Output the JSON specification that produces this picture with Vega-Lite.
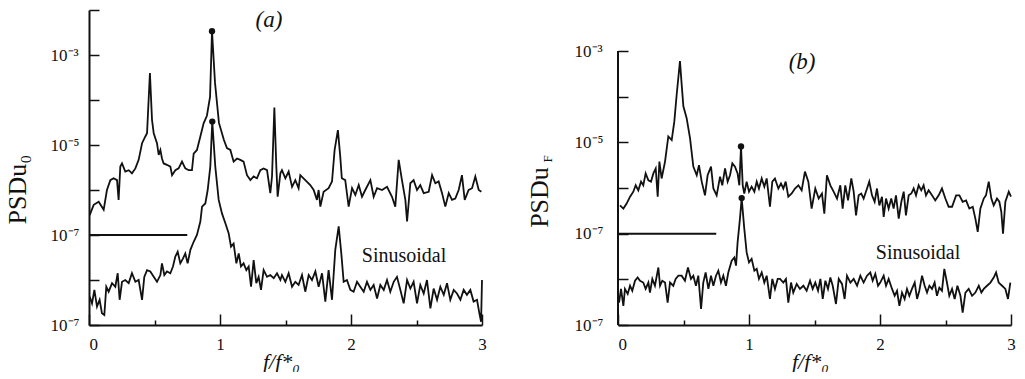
{
  "$schema": "https://vega.github.io/schema/vega-lite/v6.json",
  "background": "white",
  "padding": {"left": 4, "top": 1, "right": 0, "bottom": 0},
  "bounds": "flush",
  "spacing": 136,
  "config": {
    "view": {"stroke": null},
    "font": "Liberation Serif",
    "axis": {"grid": false, "domainColor": "#111", "domainWidth": 2, "tickColor": "#111", "tickWidth": 1.5, "labelColor": "#111", "titleColor": "#111", "labelFont": "Liberation Serif", "titleFont": "Liberation Serif", "titleFontWeight": "normal", "labelOverlap": false, "labelFlush": false}
  },
  "datasets": {
    "a": [
      {"s":"u","f":0.005,"L":-6.56},{"s":"u","f":0.036,"L":-6.33},{"s":"u","f":0.074,"L":-6.26},{"s":"u","f":0.112,"L":-6.44},{"s":"u","f":0.137,"L":-6.0},{"s":"u","f":0.163,"L":-5.78},{"s":"u","f":0.188,"L":-5.74},{"s":"u","f":0.214,"L":-5.78},{"s":"u","f":0.226,"L":-6.22},{"s":"u","f":0.239,"L":-5.48},{"s":"u","f":0.252,"L":-5.41},{"s":"u","f":0.277,"L":-5.59},{"s":"u","f":0.303,"L":-5.56},{"s":"u","f":0.328,"L":-5.63},{"s":"u","f":0.354,"L":-5.52},{"s":"u","f":0.379,"L":-5.33},{"s":"u","f":0.405,"L":-4.96},{"s":"u","f":0.43,"L":-4.81},{"s":"u","f":0.443,"L":-4.74},{"s":"u","f":0.465,"L":-3.4},{"s":"u","f":0.481,"L":-4.44},{"s":"u","f":0.494,"L":-4.74},{"s":"u","f":0.519,"L":-4.96},{"s":"u","f":0.532,"L":-5.22},{"s":"u","f":0.545,"L":-5.11},{"s":"u","f":0.557,"L":-5.3},{"s":"u","f":0.57,"L":-5.41},{"s":"u","f":0.595,"L":-5.44},{"s":"u","f":0.621,"L":-5.48},{"s":"u","f":0.634,"L":-5.67},{"s":"u","f":0.659,"L":-5.56},{"s":"u","f":0.684,"L":-5.52},{"s":"u","f":0.71,"L":-5.37},{"s":"u","f":0.735,"L":-5.52},{"s":"u","f":0.761,"L":-5.56},{"s":"u","f":0.786,"L":-5.56},{"s":"u","f":0.799,"L":-5.19},{"s":"u","f":0.824,"L":-5.11},{"s":"u","f":0.85,"L":-4.81},{"s":"u","f":0.875,"L":-4.52},{"s":"u","f":0.9,"L":-4.35},{"s":"u","f":0.924,"L":-3.93},{"s":"u","f":0.939,"L":-2.47},{"s":"u","f":0.962,"L":-3.62},{"s":"u","f":0.992,"L":-4.51},{"s":"u","f":1.03,"L":-4.89},{"s":"u","f":1.053,"L":-5.07},{"s":"u","f":1.079,"L":-5.11},{"s":"u","f":1.104,"L":-5.37},{"s":"u","f":1.13,"L":-5.3},{"s":"u","f":1.155,"L":-5.33},{"s":"u","f":1.18,"L":-5.37},{"s":"u","f":1.206,"L":-5.67},{"s":"u","f":1.232,"L":-5.78},{"s":"u","f":1.257,"L":-5.7},{"s":"u","f":1.282,"L":-5.74},{"s":"u","f":1.308,"L":-5.56},{"s":"u","f":1.333,"L":-5.52},{"s":"u","f":1.359,"L":-5.56},{"s":"u","f":1.384,"L":-6.07},{"s":"u","f":1.397,"L":-5.7},{"s":"u","f":1.415,"L":-4.17},{"s":"u","f":1.43,"L":-5.48},{"s":"u","f":1.44,"L":-6.15},{"s":"u","f":1.461,"L":-5.63},{"s":"u","f":1.473,"L":-5.56},{"s":"u","f":1.499,"L":-5.74},{"s":"u","f":1.524,"L":-5.59},{"s":"u","f":1.55,"L":-5.93},{"s":"u","f":1.575,"L":-5.78},{"s":"u","f":1.6,"L":-5.96},{"s":"u","f":1.613,"L":-5.67},{"s":"u","f":1.651,"L":-5.78},{"s":"u","f":1.689,"L":-5.89},{"s":"u","f":1.715,"L":-6.0},{"s":"u","f":1.74,"L":-6.22},{"s":"u","f":1.753,"L":-6.0},{"s":"u","f":1.766,"L":-6.37},{"s":"u","f":1.791,"L":-6.04},{"s":"u","f":1.829,"L":-5.96},{"s":"u","f":1.855,"L":-5.81},{"s":"u","f":1.875,"L":-5.11},{"s":"u","f":1.9,"L":-4.67},{"s":"u","f":1.918,"L":-5.26},{"s":"u","f":1.93,"L":-5.74},{"s":"u","f":1.956,"L":-5.78},{"s":"u","f":1.982,"L":-6.37},{"s":"u","f":2.008,"L":-5.96},{"s":"u","f":2.033,"L":-6.11},{"s":"u","f":2.059,"L":-5.89},{"s":"u","f":2.084,"L":-6.15},{"s":"u","f":2.109,"L":-6.0},{"s":"u","f":2.148,"L":-5.78},{"s":"u","f":2.173,"L":-6.15},{"s":"u","f":2.199,"L":-5.96},{"s":"u","f":2.237,"L":-6.0},{"s":"u","f":2.275,"L":-5.93},{"s":"u","f":2.313,"L":-6.15},{"s":"u","f":2.338,"L":-6.37},{"s":"u","f":2.364,"L":-5.33},{"s":"u","f":2.389,"L":-5.78},{"s":"u","f":2.415,"L":-6.22},{"s":"u","f":2.428,"L":-6.7},{"s":"u","f":2.453,"L":-5.85},{"s":"u","f":2.478,"L":-5.78},{"s":"u","f":2.504,"L":-6.0},{"s":"u","f":2.529,"L":-5.89},{"s":"u","f":2.555,"L":-6.07},{"s":"u","f":2.593,"L":-6.04},{"s":"u","f":2.619,"L":-5.67},{"s":"u","f":2.644,"L":-5.85},{"s":"u","f":2.669,"L":-5.81},{"s":"u","f":2.695,"L":-6.07},{"s":"u","f":2.72,"L":-6.37},{"s":"u","f":2.746,"L":-6.07},{"s":"u","f":2.771,"L":-6.22},{"s":"u","f":2.796,"L":-6.19},{"s":"u","f":2.822,"L":-6.0},{"s":"u","f":2.847,"L":-5.67},{"s":"u","f":2.868,"L":-6.22},{"s":"u","f":2.898,"L":-6.0},{"s":"u","f":2.924,"L":-5.96},{"s":"u","f":2.949,"L":-5.7},{"s":"u","f":2.975,"L":-6.0},{"s":"u","f":2.995,"L":-6.04},
      {"s":"l","f":0.005,"L":-8.37},{"s":"l","f":0.023,"L":-8.52},{"s":"l","f":0.041,"L":-8.22},{"s":"l","f":0.061,"L":-8.59},{"s":"l","f":0.081,"L":-8.44},{"s":"l","f":0.099,"L":-8.74},{"s":"l","f":0.117,"L":-8.78},{"s":"l","f":0.132,"L":-8.15},{"s":"l","f":0.15,"L":-8.26},{"s":"l","f":0.176,"L":-8.07},{"s":"l","f":0.201,"L":-8.15},{"s":"l","f":0.219,"L":-7.85},{"s":"l","f":0.234,"L":-8.44},{"s":"l","f":0.252,"L":-8.04},{"s":"l","f":0.277,"L":-8.0},{"s":"l","f":0.303,"L":-8.07},{"s":"l","f":0.328,"L":-7.85},{"s":"l","f":0.354,"L":-8.04},{"s":"l","f":0.379,"L":-8.0},{"s":"l","f":0.405,"L":-8.44},{"s":"l","f":0.422,"L":-7.93},{"s":"l","f":0.443,"L":-7.78},{"s":"l","f":0.468,"L":-7.81},{"s":"l","f":0.494,"L":-7.93},{"s":"l","f":0.519,"L":-8.04},{"s":"l","f":0.545,"L":-7.89},{"s":"l","f":0.557,"L":-7.63},{"s":"l","f":0.575,"L":-7.89},{"s":"l","f":0.595,"L":-7.81},{"s":"l","f":0.621,"L":-7.85},{"s":"l","f":0.641,"L":-7.7},{"s":"l","f":0.659,"L":-7.48},{"s":"l","f":0.677,"L":-7.37},{"s":"l","f":0.697,"L":-7.63},{"s":"l","f":0.718,"L":-7.52},{"s":"l","f":0.735,"L":-7.41},{"s":"l","f":0.753,"L":-7.63},{"s":"l","f":0.774,"L":-7.33},{"s":"l","f":0.799,"L":-7.15},{"s":"l","f":0.824,"L":-7.0},{"s":"l","f":0.85,"L":-6.7},{"s":"l","f":0.863,"L":-6.37},{"s":"l","f":0.888,"L":-6.3},{"s":"l","f":0.906,"L":-6.0},{"s":"l","f":0.926,"L":-5.48},{"s":"l","f":0.941,"L":-4.48},{"s":"l","f":0.964,"L":-5.48},{"s":"l","f":0.99,"L":-6.22},{"s":"l","f":1.015,"L":-6.52},{"s":"l","f":1.041,"L":-6.74},{"s":"l","f":1.066,"L":-6.96},{"s":"l","f":1.084,"L":-7.26},{"s":"l","f":1.104,"L":-7.19},{"s":"l","f":1.125,"L":-7.63},{"s":"l","f":1.143,"L":-7.41},{"s":"l","f":1.16,"L":-7.7},{"s":"l","f":1.18,"L":-7.63},{"s":"l","f":1.201,"L":-7.78},{"s":"l","f":1.219,"L":-7.7},{"s":"l","f":1.237,"L":-8.15},{"s":"l","f":1.257,"L":-7.56},{"s":"l","f":1.277,"L":-8.07},{"s":"l","f":1.295,"L":-7.93},{"s":"l","f":1.313,"L":-8.22},{"s":"l","f":1.333,"L":-7.78},{"s":"l","f":1.359,"L":-7.93},{"s":"l","f":1.384,"L":-7.89},{"s":"l","f":1.41,"L":-7.96},{"s":"l","f":1.435,"L":-7.85},{"s":"l","f":1.461,"L":-8.0},{"s":"l","f":1.473,"L":-7.89},{"s":"l","f":1.499,"L":-8.04},{"s":"l","f":1.524,"L":-7.85},{"s":"l","f":1.55,"L":-8.15},{"s":"l","f":1.575,"L":-8.04},{"s":"l","f":1.6,"L":-8.11},{"s":"l","f":1.626,"L":-7.89},{"s":"l","f":1.651,"L":-8.26},{"s":"l","f":1.677,"L":-7.89},{"s":"l","f":1.702,"L":-8.0},{"s":"l","f":1.728,"L":-7.81},{"s":"l","f":1.753,"L":-8.15},{"s":"l","f":1.779,"L":-7.85},{"s":"l","f":1.804,"L":-8.48},{"s":"l","f":1.829,"L":-7.78},{"s":"l","f":1.855,"L":-8.44},{"s":"l","f":1.88,"L":-7.33},{"s":"l","f":1.906,"L":-6.81},{"s":"l","f":1.926,"L":-7.41},{"s":"l","f":1.944,"L":-8.04},{"s":"l","f":1.969,"L":-8.0},{"s":"l","f":1.995,"L":-8.22},{"s":"l","f":2.02,"L":-8.26},{"s":"l","f":2.046,"L":-8.04},{"s":"l","f":2.071,"L":-8.15},{"s":"l","f":2.097,"L":-8.26},{"s":"l","f":2.122,"L":-8.04},{"s":"l","f":2.148,"L":-8.22},{"s":"l","f":2.173,"L":-8.11},{"s":"l","f":2.199,"L":-8.41},{"s":"l","f":2.224,"L":-8.11},{"s":"l","f":2.25,"L":-8.22},{"s":"l","f":2.275,"L":-8.0},{"s":"l","f":2.3,"L":-8.26},{"s":"l","f":2.326,"L":-8.04},{"s":"l","f":2.351,"L":-7.93},{"s":"l","f":2.377,"L":-8.22},{"s":"l","f":2.402,"L":-8.52},{"s":"l","f":2.428,"L":-8.0},{"s":"l","f":2.453,"L":-8.19},{"s":"l","f":2.478,"L":-8.04},{"s":"l","f":2.504,"L":-8.52},{"s":"l","f":2.529,"L":-8.11},{"s":"l","f":2.555,"L":-8.3},{"s":"l","f":2.58,"L":-8.0},{"s":"l","f":2.606,"L":-8.63},{"s":"l","f":2.631,"L":-8.19},{"s":"l","f":2.657,"L":-8.44},{"s":"l","f":2.682,"L":-8.15},{"s":"l","f":2.708,"L":-8.33},{"s":"l","f":2.733,"L":-8.07},{"s":"l","f":2.758,"L":-8.44},{"s":"l","f":2.784,"L":-8.22},{"s":"l","f":2.809,"L":-8.3},{"s":"l","f":2.835,"L":-8.44},{"s":"l","f":2.86,"L":-8.22},{"s":"l","f":2.885,"L":-8.33},{"s":"l","f":2.911,"L":-8.22},{"s":"l","f":2.936,"L":-8.48},{"s":"l","f":2.962,"L":-8.44},{"s":"l","f":2.98,"L":-8.74},{"s":"l","f":2.993,"L":-8.93},{"s":"l","f":3.0,"L":-8.0}
    ],
    "b": [
      {"s":"u","f":0.015,"L":-6.38},{"s":"u","f":0.041,"L":-6.45},{"s":"u","f":0.066,"L":-6.34},{"s":"u","f":0.092,"L":-6.19},{"s":"u","f":0.117,"L":-6.08},{"s":"u","f":0.135,"L":-5.94},{"s":"u","f":0.155,"L":-6.05},{"s":"u","f":0.176,"L":-5.86},{"s":"u","f":0.193,"L":-5.94},{"s":"u","f":0.211,"L":-5.68},{"s":"u","f":0.232,"L":-5.83},{"s":"u","f":0.252,"L":-5.86},{"s":"u","f":0.27,"L":-5.68},{"s":"u","f":0.288,"L":-5.57},{"s":"u","f":0.303,"L":-6.19},{"s":"u","f":0.316,"L":-5.42},{"s":"u","f":0.333,"L":-5.79},{"s":"u","f":0.359,"L":-5.42},{"s":"u","f":0.384,"L":-4.87},{"s":"u","f":0.41,"L":-4.95},{"s":"u","f":0.43,"L":-4.54},{"s":"u","f":0.448,"L":-3.95},{"s":"u","f":0.473,"L":-3.22},{"s":"u","f":0.486,"L":-3.73},{"s":"u","f":0.499,"L":-4.21},{"s":"u","f":0.524,"L":-4.47},{"s":"u","f":0.55,"L":-4.91},{"s":"u","f":0.575,"L":-5.53},{"s":"u","f":0.601,"L":-5.72},{"s":"u","f":0.618,"L":-5.5},{"s":"u","f":0.639,"L":-5.86},{"s":"u","f":0.664,"L":-6.16},{"s":"u","f":0.684,"L":-5.72},{"s":"u","f":0.71,"L":-5.53},{"s":"u","f":0.728,"L":-6.01},{"s":"u","f":0.753,"L":-6.16},{"s":"u","f":0.779,"L":-5.75},{"s":"u","f":0.796,"L":-5.94},{"s":"u","f":0.817,"L":-5.57},{"s":"u","f":0.837,"L":-5.86},{"s":"u","f":0.855,"L":-5.72},{"s":"u","f":0.873,"L":-5.46},{"s":"u","f":0.893,"L":-5.53},{"s":"u","f":0.913,"L":-5.68},{"s":"u","f":0.926,"L":-5.94},{"s":"u","f":0.939,"L":-5.09},{"s":"u","f":0.952,"L":-5.94},{"s":"u","f":0.964,"L":-6.12},{"s":"u","f":0.982,"L":-5.86},{"s":"u","f":1.0,"L":-6.08},{"s":"u","f":1.02,"L":-5.97},{"s":"u","f":1.041,"L":-6.08},{"s":"u","f":1.059,"L":-5.86},{"s":"u","f":1.076,"L":-6.01},{"s":"u","f":1.097,"L":-5.79},{"s":"u","f":1.117,"L":-5.97},{"s":"u","f":1.135,"L":-5.79},{"s":"u","f":1.16,"L":-6.41},{"s":"u","f":1.178,"L":-5.86},{"s":"u","f":1.198,"L":-5.79},{"s":"u","f":1.224,"L":-6.01},{"s":"u","f":1.244,"L":-5.9},{"s":"u","f":1.262,"L":-6.01},{"s":"u","f":1.28,"L":-5.86},{"s":"u","f":1.3,"L":-6.19},{"s":"u","f":1.326,"L":-6.12},{"s":"u","f":1.351,"L":-6.01},{"s":"u","f":1.377,"L":-5.94},{"s":"u","f":1.402,"L":-6.05},{"s":"u","f":1.427,"L":-5.64},{"s":"u","f":1.453,"L":-5.86},{"s":"u","f":1.478,"L":-6.45},{"s":"u","f":1.506,"L":-6.01},{"s":"u","f":1.532,"L":-6.23},{"s":"u","f":1.557,"L":-6.12},{"s":"u","f":1.575,"L":-6.56},{"s":"u","f":1.595,"L":-5.72},{"s":"u","f":1.621,"L":-5.94},{"s":"u","f":1.646,"L":-6.08},{"s":"u","f":1.672,"L":-6.23},{"s":"u","f":1.697,"L":-5.94},{"s":"u","f":1.715,"L":-6.45},{"s":"u","f":1.735,"L":-5.94},{"s":"u","f":1.756,"L":-6.27},{"s":"u","f":1.781,"L":-5.79},{"s":"u","f":1.799,"L":-6.08},{"s":"u","f":1.817,"L":-6.6},{"s":"u","f":1.837,"L":-6.16},{"s":"u","f":1.857,"L":-6.12},{"s":"u","f":1.875,"L":-6.23},{"s":"u","f":1.901,"L":-6.01},{"s":"u","f":1.918,"L":-5.86},{"s":"u","f":1.939,"L":-6.16},{"s":"u","f":1.959,"L":-6.3},{"s":"u","f":1.977,"L":-6.01},{"s":"u","f":1.995,"L":-6.38},{"s":"u","f":2.015,"L":-6.19},{"s":"u","f":2.028,"L":-6.63},{"s":"u","f":2.046,"L":-6.23},{"s":"u","f":2.066,"L":-6.45},{"s":"u","f":2.086,"L":-6.23},{"s":"u","f":2.104,"L":-6.45},{"s":"u","f":2.122,"L":-6.16},{"s":"u","f":2.143,"L":-6.67},{"s":"u","f":2.163,"L":-6.3},{"s":"u","f":2.181,"L":-6.08},{"s":"u","f":2.198,"L":-6.6},{"s":"u","f":2.219,"L":-6.16},{"s":"u","f":2.239,"L":-6.12},{"s":"u","f":2.257,"L":-6.01},{"s":"u","f":2.275,"L":-6.16},{"s":"u","f":2.295,"L":-5.94},{"s":"u","f":2.315,"L":-6.05},{"s":"u","f":2.333,"L":-5.94},{"s":"u","f":2.351,"L":-6.16},{"s":"u","f":2.371,"L":-6.05},{"s":"u","f":2.397,"L":-6.16},{"s":"u","f":2.422,"L":-6.27},{"s":"u","f":2.448,"L":-6.16},{"s":"u","f":2.473,"L":-6.01},{"s":"u","f":2.499,"L":-6.23},{"s":"u","f":2.524,"L":-6.41},{"s":"u","f":2.55,"L":-6.41},{"s":"u","f":2.581,"L":-6.16},{"s":"u","f":2.606,"L":-6.16},{"s":"u","f":2.631,"L":-6.3},{"s":"u","f":2.657,"L":-6.27},{"s":"u","f":2.682,"L":-6.45},{"s":"u","f":2.708,"L":-6.41},{"s":"u","f":2.728,"L":-6.67},{"s":"u","f":2.746,"L":-6.96},{"s":"u","f":2.766,"L":-6.45},{"s":"u","f":2.792,"L":-6.23},{"s":"u","f":2.809,"L":-6.16},{"s":"u","f":2.83,"L":-5.86},{"s":"u","f":2.85,"L":-6.23},{"s":"u","f":2.868,"L":-6.38},{"s":"u","f":2.893,"L":-6.23},{"s":"u","f":2.911,"L":-6.3},{"s":"u","f":2.926,"L":-6.52},{"s":"u","f":2.939,"L":-7.0},{"s":"u","f":2.957,"L":-6.3},{"s":"u","f":2.983,"L":-6.08},{"s":"u","f":3.0,"L":-6.19},
      {"s":"l","f":0.008,"L":-8.51},{"s":"l","f":0.023,"L":-8.21},{"s":"l","f":0.041,"L":-8.58},{"s":"l","f":0.053,"L":-8.21},{"s":"l","f":0.074,"L":-8.32},{"s":"l","f":0.092,"L":-8.14},{"s":"l","f":0.109,"L":-8.25},{"s":"l","f":0.13,"L":-8.03},{"s":"l","f":0.15,"L":-7.96},{"s":"l","f":0.168,"L":-8.03},{"s":"l","f":0.193,"L":-8.07},{"s":"l","f":0.211,"L":-8.21},{"s":"l","f":0.232,"L":-8.07},{"s":"l","f":0.244,"L":-8.29},{"s":"l","f":0.262,"L":-7.99},{"s":"l","f":0.282,"L":-8.14},{"s":"l","f":0.308,"L":-7.74},{"s":"l","f":0.321,"L":-8.14},{"s":"l","f":0.338,"L":-8.03},{"s":"l","f":0.359,"L":-8.07},{"s":"l","f":0.379,"L":-8.51},{"s":"l","f":0.397,"L":-8.07},{"s":"l","f":0.422,"L":-8.14},{"s":"l","f":0.44,"L":-7.99},{"s":"l","f":0.461,"L":-7.92},{"s":"l","f":0.486,"L":-7.92},{"s":"l","f":0.511,"L":-8.03},{"s":"l","f":0.534,"L":-7.74},{"s":"l","f":0.557,"L":-7.99},{"s":"l","f":0.575,"L":-7.92},{"s":"l","f":0.595,"L":-8.14},{"s":"l","f":0.613,"L":-7.92},{"s":"l","f":0.634,"L":-8.65},{"s":"l","f":0.651,"L":-8.07},{"s":"l","f":0.669,"L":-7.85},{"s":"l","f":0.69,"L":-8.21},{"s":"l","f":0.71,"L":-7.92},{"s":"l","f":0.728,"L":-8.14},{"s":"l","f":0.748,"L":-7.92},{"s":"l","f":0.766,"L":-7.81},{"s":"l","f":0.786,"L":-8.07},{"s":"l","f":0.804,"L":-7.92},{"s":"l","f":0.824,"L":-8.14},{"s":"l","f":0.842,"L":-7.85},{"s":"l","f":0.868,"L":-7.59},{"s":"l","f":0.888,"L":-7.52},{"s":"l","f":0.901,"L":-7.7},{"s":"l","f":0.913,"L":-7.19},{"s":"l","f":0.931,"L":-6.67},{"s":"l","f":0.944,"L":-6.22},{"s":"l","f":0.964,"L":-6.89},{"s":"l","f":0.982,"L":-7.41},{"s":"l","f":1.0,"L":-7.63},{"s":"l","f":1.02,"L":-7.55},{"s":"l","f":1.041,"L":-7.81},{"s":"l","f":1.059,"L":-7.77},{"s":"l","f":1.076,"L":-7.99},{"s":"l","f":1.097,"L":-7.85},{"s":"l","f":1.117,"L":-8.07},{"s":"l","f":1.135,"L":-7.92},{"s":"l","f":1.16,"L":-8.43},{"s":"l","f":1.178,"L":-7.99},{"s":"l","f":1.198,"L":-8.21},{"s":"l","f":1.219,"L":-7.99},{"s":"l","f":1.237,"L":-7.99},{"s":"l","f":1.262,"L":-8.07},{"s":"l","f":1.282,"L":-7.99},{"s":"l","f":1.3,"L":-8.51},{"s":"l","f":1.321,"L":-8.07},{"s":"l","f":1.338,"L":-8.29},{"s":"l","f":1.364,"L":-8.1},{"s":"l","f":1.389,"L":-8.21},{"s":"l","f":1.415,"L":-8.14},{"s":"l","f":1.44,"L":-8.25},{"s":"l","f":1.466,"L":-8.03},{"s":"l","f":1.486,"L":-8.21},{"s":"l","f":1.506,"L":-8.07},{"s":"l","f":1.527,"L":-8.25},{"s":"l","f":1.545,"L":-7.99},{"s":"l","f":1.563,"L":-8.43},{"s":"l","f":1.583,"L":-8.03},{"s":"l","f":1.603,"L":-8.21},{"s":"l","f":1.621,"L":-7.96},{"s":"l","f":1.639,"L":-8.14},{"s":"l","f":1.664,"L":-8.54},{"s":"l","f":1.685,"L":-7.99},{"s":"l","f":1.71,"L":-8.1},{"s":"l","f":1.73,"L":-8.43},{"s":"l","f":1.748,"L":-7.92},{"s":"l","f":1.774,"L":-8.07},{"s":"l","f":1.799,"L":-7.99},{"s":"l","f":1.825,"L":-8.14},{"s":"l","f":1.85,"L":-7.92},{"s":"l","f":1.875,"L":-8.07},{"s":"l","f":1.901,"L":-7.92},{"s":"l","f":1.926,"L":-7.85},{"s":"l","f":1.944,"L":-8.03},{"s":"l","f":1.964,"L":-7.88},{"s":"l","f":1.985,"L":-8.14},{"s":"l","f":2.002,"L":-8.07},{"s":"l","f":2.028,"L":-7.92},{"s":"l","f":2.046,"L":-8.14},{"s":"l","f":2.066,"L":-7.99},{"s":"l","f":2.092,"L":-8.21},{"s":"l","f":2.112,"L":-8.36},{"s":"l","f":2.13,"L":-8.25},{"s":"l","f":2.148,"L":-8.58},{"s":"l","f":2.168,"L":-8.29},{"s":"l","f":2.188,"L":-8.43},{"s":"l","f":2.206,"L":-8.21},{"s":"l","f":2.224,"L":-8.36},{"s":"l","f":2.244,"L":-8.21},{"s":"l","f":2.265,"L":-8.07},{"s":"l","f":2.283,"L":-8.43},{"s":"l","f":2.3,"L":-8.25},{"s":"l","f":2.321,"L":-7.92},{"s":"l","f":2.341,"L":-8.14},{"s":"l","f":2.359,"L":-8.29},{"s":"l","f":2.377,"L":-8.14},{"s":"l","f":2.397,"L":-8.21},{"s":"l","f":2.417,"L":-8.07},{"s":"l","f":2.435,"L":-8.36},{"s":"l","f":2.453,"L":-8.18},{"s":"l","f":2.473,"L":-8.25},{"s":"l","f":2.491,"L":-7.77},{"s":"l","f":2.511,"L":-8.07},{"s":"l","f":2.529,"L":-8.36},{"s":"l","f":2.55,"L":-8.21},{"s":"l","f":2.57,"L":-8.43},{"s":"l","f":2.591,"L":-8.14},{"s":"l","f":2.614,"L":-8.36},{"s":"l","f":2.631,"L":-8.73},{"s":"l","f":2.652,"L":-8.29},{"s":"l","f":2.677,"L":-8.21},{"s":"l","f":2.703,"L":-8.36},{"s":"l","f":2.728,"L":-8.29},{"s":"l","f":2.754,"L":-8.14},{"s":"l","f":2.774,"L":-8.29},{"s":"l","f":2.792,"L":-8.21},{"s":"l","f":2.817,"L":-8.14},{"s":"l","f":2.843,"L":-8.07},{"s":"l","f":2.868,"L":-7.96},{"s":"l","f":2.886,"L":-7.85},{"s":"l","f":2.906,"L":-8.07},{"s":"l","f":2.932,"L":-8.14},{"s":"l","f":2.957,"L":-8.21},{"s":"l","f":2.977,"L":-8.43},{"s":"l","f":2.995,"L":-8.07}
    ]
  },
  "hconcat": [
    {
      "width": 393,
      "height": 315,
      "encoding": {
        "x": {"field": "f", "type": "quantitative", "scale": {"domain": [0, 3], "nice": false, "zero": false},
          "axis": {"values": [0, 0.5, 1, 1.5, 2, 2.5, 3], "tickSize": {"condition": {"test": "datum.value % 1 == 0", "value": -11}, "value": -5},
            "labelExpr": "datum.value % 1 == 0 ? format(datum.value, 'd') : ''",
            "labelAlign": {"condition": {"test": "datum.value == 0", "value": "left"}, "value": "center"},
            "labelPadding": 22, "labelFontSize": 17, "labelFont": "Liberation Serif", "labelBaseline": "top",
            "title": "f/f*₀", "titleFontStyle": "italic", "titleFontSize": 22, "titleX": 192, "titleY": 43, "titleBaseline": "alphabetic", "titleAlign": "center"}},
        "y": {"field": "L", "type": "quantitative", "scale": {"domain": [-9, -2], "nice": false, "zero": false},
          "axis": {"values": [-9, -8, -7, -6, -5, -4, -3, -2], "tickSize": -10,
            "labelExpr": "datum.value == -3 ? '10⁻³' : datum.value == -5 ? '10⁻⁵' : (datum.value == -7 || datum.value == -9) ? '10⁻⁷' : ''",
            "labelAlign": "left", "labelBaseline": "middle", "labelPadding": 49, "labelFontSize": 17, "labelFont": "Liberation Serif",
            "title": "PSDu₀", "titleFontSize": 26, "titleX": -64, "titleY": 179, "titleBaseline": "alphabetic", "titleAlign": "center", "titleAngle": 270}}
      },
      "layer": [
        {
          "data": {"name": "a"},
          "mark": {"type": "line", "color": "#111", "strokeWidth": 1.8},
          "encoding": {"detail": {"field": "s", "type": "nominal"}}
        },
        {
          "data": {"values": [{"f": 0, "f2": 0.75, "L": -7}]},
          "mark": {"type": "rule", "color": "#111", "strokeWidth": 2},
          "encoding": {"x2": {"field": "f2"}}
        },
        {
          "data": {"values": [{"f": 0.939, "L": -2.47}, {"f": 0.941, "L": -4.48}]},
          "mark": {"type": "circle", "color": "#111", "opacity": 1, "size": 40}
        },
        {
          "data": {"values": [{"f": 1.374, "L": -2.22, "t": "(a)"}]},
          "mark": {"type": "text", "color": "#111", "font": "Liberation Serif", "fontStyle": "italic", "fontSize": 23, "baseline": "middle", "align": "center"},
          "encoding": {"text": {"field": "t"}}
        },
        {
          "data": {"values": [{"f": 2.405, "L": -7.47, "t": "Sinusoidal"}]},
          "mark": {"type": "text", "color": "#111", "font": "Liberation Serif", "fontSize": 20, "baseline": "middle", "align": "center"},
          "encoding": {"text": {"field": "t"}}
        }
      ]
    },
    {
      "width": 393,
      "height": 315,
      "encoding": {
        "x": {"field": "f", "type": "quantitative", "scale": {"domain": [0, 3], "nice": false, "zero": false},
          "axis": {"values": [0, 0.5, 1, 1.5, 2, 2.5, 3], "tickSize": {"condition": {"test": "datum.value % 1 == 0", "value": -11}, "value": -5},
            "labelExpr": "datum.value % 1 == 0 ? format(datum.value, 'd') : ''",
            "labelAlign": {"condition": {"test": "datum.value == 0", "value": "left"}, "value": "center"},
            "labelPadding": 22, "labelFontSize": 17, "labelFont": "Liberation Serif", "labelBaseline": "top",
            "title": "f/f*₀", "titleFontStyle": "italic", "titleFontSize": 22, "titleX": 192, "titleY": 43, "titleBaseline": "alphabetic", "titleAlign": "center"}},
        "y": {"field": "L", "type": "quantitative", "scale": {"domain": [-9, -2.1], "nice": false, "zero": false},
          "axis": {"values": [-9, -8, -7, -6, -5, -4, -3], "tickSize": -10, "domain": false,
            "labelExpr": "datum.value == -3 ? '10⁻³' : datum.value == -5 ? '10⁻⁵' : (datum.value == -7 || datum.value == -9) ? '10⁻⁷' : ''",
            "labelAlign": "left", "labelBaseline": "middle", "labelPadding": 54, "labelFontSize": 17, "labelFont": "Liberation Serif",
            "title": "PSDu", "titleFontSize": 26, "titleX": -71, "titleY": 187, "titleBaseline": "alphabetic", "titleAlign": "center", "titleAngle": 270}}
      },
      "layer": [
        {
          "data": {"name": "b"},
          "mark": {"type": "line", "color": "#111", "strokeWidth": 1.8},
          "encoding": {"detail": {"field": "s", "type": "nominal"}}
        },
        {
          "data": {"values": [{"f": 0, "L": -9, "L2": -3}]},
          "mark": {"type": "rule", "color": "#111", "strokeWidth": 2},
          "encoding": {"y2": {"field": "L2"}}
        },
        {
          "data": {"values": [{"f": 0, "f2": 0.75, "L": -7}]},
          "mark": {"type": "rule", "color": "#111", "strokeWidth": 2},
          "encoding": {"x2": {"field": "f2"}}
        },
        {
          "data": {"values": [{"f": 0.939, "L": -5.09}, {"f": 0.944, "L": -6.22}]},
          "mark": {"type": "circle", "color": "#111", "opacity": 1, "size": 40}
        },
        {
          "data": {"values": [{"f": 1.405, "L": -3.24, "t": "(b)"}]},
          "mark": {"type": "text", "color": "#111", "font": "Liberation Serif", "fontStyle": "italic", "fontSize": 23, "baseline": "middle", "align": "center"},
          "encoding": {"text": {"field": "t"}}
        },
        {
          "data": {"values": [{"f": 2.29, "L": -7.43, "t": "Sinusoidal"}]},
          "mark": {"type": "text", "color": "#111", "font": "Liberation Serif", "fontSize": 20, "baseline": "middle", "align": "center"},
          "encoding": {"text": {"field": "t"}}
        },
        {
          "data": {"values": [{"f": -0.534, "L": -5.36, "t": "F"}]},
          "mark": {"type": "text", "color": "#111", "font": "Liberation Serif", "fontSize": 13, "angle": 270, "baseline": "middle", "align": "center"},
          "encoding": {"text": {"field": "t"}}
        }
      ]
    }
  ]
}
